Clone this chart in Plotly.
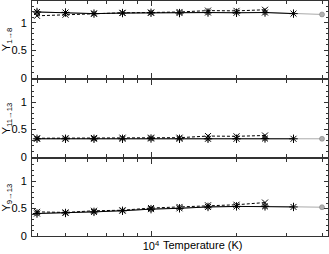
import plotly.graph_objects as go
from plotly.subplots import make_subplots

# log10 temperature grid
logT_solid = [3.6, 3.7, 3.8, 3.9, 4.0, 4.1, 4.2, 4.3, 4.4, 4.5]
logT_dash = [3.6, 3.7, 3.8, 3.9, 4.0, 4.1, 4.2, 4.3, 4.4]
logT_gray = [3.6, 3.8, 4.0, 4.2, 4.4, 4.6]

T_solid = [10 ** v for v in logT_solid]
T_dash = [10 ** v for v in logT_dash]
T_gray = [10 ** v for v in logT_gray]

# panel 1: Upsilon 1->8
y1_solid = [1.20, 1.19, 1.17, 1.18, 1.185, 1.18, 1.19, 1.185, 1.19, 1.17]
y1_dash = [1.13, 1.15, 1.17, 1.185, 1.19, 1.20, 1.225, 1.22, 1.24]
y1_gray = [1.20, 1.17, 1.185, 1.19, 1.19, 1.155]

# panel 2: Upsilon 11->13
y2_solid = [0.33, 0.33, 0.33, 0.33, 0.335, 0.33, 0.33, 0.33, 0.335, 0.33]
y2_dash = [0.34, 0.34, 0.345, 0.35, 0.35, 0.35, 0.38, 0.375, 0.39]
y2_gray = [0.33, 0.33, 0.335, 0.33, 0.335, 0.33]

# panel 3: Upsilon 9->13
y3_solid = [0.41, 0.42, 0.44, 0.46, 0.49, 0.505, 0.53, 0.54, 0.54, 0.53]
y3_dash = [0.44, 0.43, 0.46, 0.47, 0.51, 0.53, 0.56, 0.57, 0.61]
y3_gray = [0.41, 0.44, 0.49, 0.53, 0.54, 0.525]

ylabels = ["Υ<sub>1→8</sub>", "Υ<sub>11→13</sub>", "Υ<sub>9→13</sub>"]
y_ticks = [0, 0.5, 1]
y_tick_text = ["0", "0.5", "1"]
x_major = [10000]
x_major_text = ["10<sup>4</sup>"]
x_minor = [4000, 5000, 6000, 7000, 8000, 9000, 20000, 30000, 40000]

FONT = "Liberation Sans, Arial, sans-serif"

fig = make_subplots(rows=3, cols=1, shared_xaxes=False, vertical_spacing=0.01)

panels = [
    (y1_solid, y1_dash, y1_gray),
    (y2_solid, y2_dash, y2_gray),
    (y3_solid, y3_dash, y3_gray),
]

for i, (ys, yd, yg) in enumerate(panels, start=1):
    fig.add_trace(go.Scatter(x=T_gray, y=yg, mode="lines+markers",
                             line=dict(color="#aaaaaa", width=1),
                             marker=dict(symbol="circle", size=5, color="#b0b0b0",
                                         line=dict(color="#777", width=0.5)),
                             showlegend=False), row=i, col=1)
    fig.add_trace(go.Scatter(x=T_solid, y=ys, mode="lines+markers",
                             line=dict(color="black", width=1),
                             marker=dict(symbol="asterisk-open", size=7,
                                         line=dict(color="black", width=1)),
                             showlegend=False), row=i, col=1)
    fig.add_trace(go.Scatter(x=T_dash, y=yd, mode="lines+markers",
                             line=dict(color="black", width=1, dash="3px,2px"),
                             marker=dict(symbol="x-thin-open", size=6,
                                         line=dict(color="black", width=1)),
                             showlegend=False), row=i, col=1)

    fig.update_xaxes(type="log", range=[3.5825, 4.621],
                     tickvals=x_major,
                     ticktext=x_major_text,
                     showticklabels=(i == 3),
                     ticks="inside", ticklen=5, tickcolor="#333",
                     minor=dict(tickvals=x_minor, ticks="inside", ticklen=3,
                                tickcolor="#333", showgrid=False),
                     showline=True, linecolor="#333", linewidth=1, mirror="ticks",
                     showgrid=False, zeroline=False,
                     tickfont=dict(family=FONT, size=11, color="black"),
                     row=i, col=1)
    fig.update_yaxes(range=[0, 1.4], tickvals=y_ticks, ticktext=y_tick_text,
                     ticks="inside", ticklen=4, tickcolor="#333",
                     minor=dict(dtick=0.1, tick0=0, ticks="inside", ticklen=2,
                                tickcolor="#333", showgrid=False),
                     showline=True, linecolor="#333", linewidth=1, mirror="ticks",
                     showgrid=False, zeroline=False,
                     ticklabelstandoff=2,
                     tickfont=dict(family=FONT, size=11, color="black"),
                     title=dict(text=ylabels[i - 1], standoff=1,
                                font=dict(family=FONT, size=11, color="black")),
                     row=i, col=1)

fig.add_annotation(text="Temperature (K)", xref="paper", yref="paper",
                   x=(161 - 32) / 296, y=-0.038, xanchor="left", yanchor="middle",
                   showarrow=False, font=dict(family=FONT, size=11, color="black"))

fig.update_layout(width=329, height=254,
                  margin=dict(l=32, r=1, t=1, b=18),
                  paper_bgcolor="white", plot_bgcolor="white",
                  font=dict(family=FONT, size=11, color="black"))

fig.write_html("out.html",
               config={"displayModeBar": False, "staticPlot": True},
               post_script="document.body.style.margin='0';document.body.style.overflow='hidden';")
